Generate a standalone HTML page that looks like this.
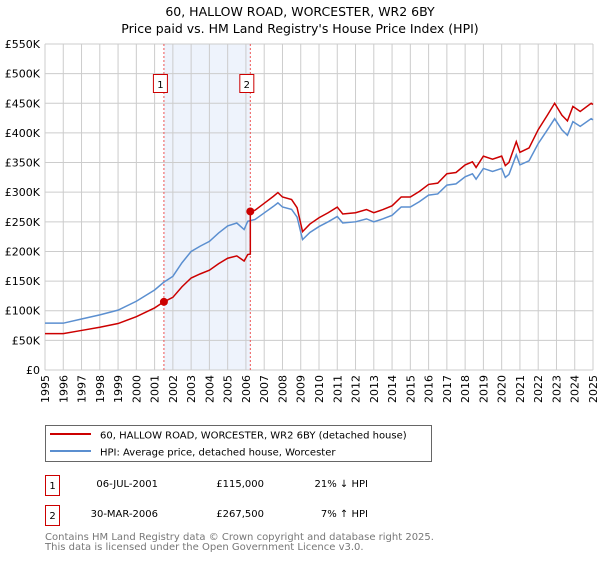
<!DOCTYPE html>
<html><head><meta charset="utf-8">
<style>
body{margin:0;background:#fff;width:600px;height:560px;overflow:hidden;font-family:"DejaVu Sans","Liberation Sans",sans-serif;}
svg text{font-family:"DejaVu Sans","Liberation Sans",sans-serif;}
</style></head>
<body>
<svg id="chart" width="600" height="560" xmlns="http://www.w3.org/2000/svg">
<text x="300" y="16" text-anchor="middle" font-size="12.5" fill="#000">60, HALLOW ROAD, WORCESTER, WR2 6BY</text>
<text x="300" y="33" text-anchor="middle" font-size="12.5" fill="#000">Price paid vs. HM Land Registry's House Price Index (HPI)</text>
<g id="plot"></g>
<g>
<rect x="45.5" y="425.5" width="386" height="36" fill="#fff" stroke="#666"/>
<line x1="50" y1="434" x2="91" y2="434" stroke="#cc0000" stroke-width="2"/>
<text x="100" y="438.5" font-size="10">60, HALLOW ROAD, WORCESTER, WR2 6BY (detached house)</text>
<line x1="50" y1="451" x2="91" y2="451" stroke="#5b8fd0" stroke-width="2"/>
<text x="100" y="455.5" font-size="10">HPI: Average price, detached house, Worcester</text>
</g>
<g font-size="10">
<rect x="45.5" y="475.5" width="14" height="20" fill="#fff" stroke="#cc0000"/>
<text x="52.5" y="489" text-anchor="middle">1</text>
<text x="158" y="487" text-anchor="end">06-JUL-2001</text>
<text x="264" y="487" text-anchor="end">£115,000</text>
<text x="368" y="487" text-anchor="end">21% ↓ HPI</text>
<rect x="45.5" y="505.5" width="14" height="20" fill="#fff" stroke="#cc0000"/>
<text x="52.5" y="519" text-anchor="middle">2</text>
<text x="158" y="517" text-anchor="end">30-MAR-2006</text>
<text x="264" y="517" text-anchor="end">£267,500</text>
<text x="368" y="517" text-anchor="end">7% ↑ HPI</text>
</g>
<text x="45" y="540" font-size="10" fill="#777">Contains HM Land Registry data © Crown copyright and database right 2025.</text>
<text x="45" y="550" font-size="10" fill="#777">This data is licensed under the Open Government Licence v3.0.</text>
</svg>
<script>
const hpiYears=[1995,1996,1997,1998,1999,2000,2001,2001.5,2002,2002.5,2003,2003.5,2004,2004.5,2005,2005.5,2005.9,2006.1,2006.5,2007,2007.5,2007.75,2008,2008.5,2008.8,2009.1,2009.5,2010,2010.5,2011,2011.3,2012,2012.6,2013,2013.5,2014,2014.5,2015,2015.5,2016,2016.5,2017,2017.5,2018,2018.4,2018.6,2019,2019.5,2020,2020.2,2020.4,2020.8,2021,2021.5,2022,2022.5,2022.9,2023.3,2023.6,2023.9,2024.3,2024.9,2025];
const hpiValues=[79,79,86,93,101,116,135,148,158,181,200,209,217,231,243,248,237,251,254,265,276,282,275,271,258,220,232,242,250,259,248,250,255,250,255,261,275,275,284,295,297,312,314,326,331,322,340,335,340,325,330,363,346,353,382,405,424,405,396,419,411,424,422];
const saleYears=[2001.51,2006.24];
const salePrices=[115,267.5];
const yTicks=[0,50,100,150,200,250,300,350,400,450,500,550];
const yTickLabels=["£0","£50K","£100K","£150K","£200K","£250K","£300K","£350K","£400K","£450K","£500K","£550K"];
const xTicks=[1995,1996,1997,1998,1999,2000,2001,2002,2003,2004,2005,2006,2007,2008,2009,2010,2011,2012,2013,2014,2015,2016,2017,2018,2019,2020,2021,2022,2023,2024,2025];

const X0=45,X1=593,Y0=370,Y1=44;
const xs=y=>X0+(y-1995)/30*(X1-X0);
const ys=v=>Y0-v/550*(Y0-Y1);
const NS="http://www.w3.org/2000/svg";
const plot=document.getElementById('plot');
function mk(tag,attrs,parent){const e=document.createElementNS(NS,tag);for(const k in attrs)e.setAttribute(k,attrs[k]);(parent||plot).appendChild(e);return e;}
function hpiAt(t){for(let i=0;i<hpiYears.length-1;i++){if(t>=hpiYears[i]&&t<=hpiYears[i+1]){const f=(t-hpiYears[i])/(hpiYears[i+1]-hpiYears[i]);return hpiValues[i]+f*(hpiValues[i+1]-hpiValues[i]);}}return hpiValues[hpiValues.length-1];}

// shaded region
const sh=mk('rect',{x:xs(saleYears[0]),y:Y1,width:xs(saleYears[1])-xs(saleYears[0]),height:Y0-Y1,fill:'#eef3fc'});


// grid
xTicks.forEach((t,i)=>{
 const l=mk('line',{x1:xs(t),x2:xs(t),y1:Y1,y2:Y0,stroke:'#cccccc','stroke-width':1});
 
 
 const tx=mk('text',{x:0,y:0,'font-size':11,'text-anchor':'end',transform:`translate(${xs(t)+4},${Y0+5}) rotate(-90)`});
 
 
 tx.textContent=String(t);
});
yTicks.forEach((v,i)=>{
 const l=mk('line',{x1:X0,x2:X1,y1:ys(v),y2:ys(v),stroke:'#cccccc','stroke-width':1});
 
 
 const tx=mk('text',{x:40,y:ys(v)+4,'font-size':11,'text-anchor':'end'});
 
 
 tx.textContent=yTickLabels[i];
});
// sale lines and labels
saleYears.forEach((s,i)=>{
 const l=mk('line',{x1:xs(s),x2:xs(s),y1:Y1,y2:Y0,stroke:'#ee5555','stroke-width':1,'stroke-dasharray':'2,2'});
 
 
 const b=mk('rect',{x:xs(s)-10.5,y:74.5,width:14,height:18,fill:'#fff',stroke:'#cc0000'});
 
 
 const t=mk('text',{x:xs(s)-3.5,y:88,'font-size':10,'text-anchor':'middle'});
 
 
 t.textContent=String(i+1);
});
// HPI line
const hp=mk('polyline',{points:hpiYears.map((y,i)=>xs(y)+','+ys(hpiValues[i])).join(' '),fill:'none',stroke:'#5b8fd0','stroke-width':1.5});


// property line: indexed from sales
const pts=[];
const ratio0=salePrices[0]/hpiAt(saleYears[0]);
const ratio1=salePrices[1]/hpiAt(saleYears[1]);
hpiYears.forEach((y,i)=>{
 if(y<saleYears[1]) pts.push([y,hpiValues[i]*ratio0]);
});
pts.push([saleYears[1],hpiAt(saleYears[1])*ratio0]);
pts.push([saleYears[1],salePrices[1]]);
hpiYears.forEach((y,i)=>{ if(y>saleYears[1]) pts.push([y,hpiValues[i]*ratio1]); });
const rp=mk('polyline',{points:pts.map(p=>xs(p[0])+','+ys(p[1])).join(' '),fill:'none',stroke:'#cc0000','stroke-width':1.5});


saleYears.forEach((s,i)=>{
 const c=mk('circle',{cx:xs(s),cy:ys(salePrices[i]),r:4,fill:'#cc0000'});
 
 
});
</script>
</body></html>
